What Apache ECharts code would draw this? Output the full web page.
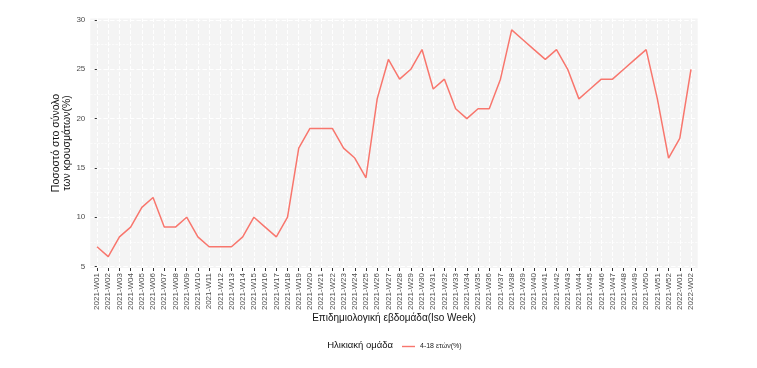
<!DOCTYPE html>
<html>
<head>
<meta charset="utf-8">
<script src="https://cdn.jsdelivr.net/npm/echarts@6/dist/echarts.min.js"></script>
<style>
html,body{margin:0;padding:0;background:#fff;}
#c{width:757px;height:368px;}
</style>
</head>
<body>
<div id="c"></div>
<script>
const weeks = [
  '2021-W01','2021-W02','2021-W03','2021-W04','2021-W05','2021-W06','2021-W07','2021-W08','2021-W09','2021-W10',
  '2021-W11','2021-W12','2021-W13','2021-W14','2021-W15','2021-W16','2021-W17','2021-W18','2021-W19','2021-W20',
  '2021-W21','2021-W22','2021-W23','2021-W24','2021-W25','2021-W26','2021-W27','2021-W28','2021-W29','2021-W30',
  '2021-W31','2021-W32','2021-W33','2021-W34','2021-W35','2021-W36','2021-W37','2021-W38','2021-W39','2021-W40',
  '2021-W41','2021-W42','2021-W43','2021-W44','2021-W45','2021-W46','2021-W47','2021-W48','2021-W49','2021-W50',
  '2021-W51','2021-W52','2022-W01','2022-W02'
];
const values = [
  7,6,8,9,11,12,9,9,10,8,
  7,7,7,8,10,9,8,10,17,19,
  19,19,17,16,14,22,26,24,25,27,
  23,24,21,20,21,21,24,29,28,27,
  26,27,25,22,23,24,24,25,26,27,
  22,16,18,25
];
const yTicks = [5,10,15,20,25,30];
const yMinor = [7.5,12.5,17.5,22.5,27.5];
const seriesName = '4-18 ετών(%)';
const legendTitle = 'Ηλικιακή ομάδα';
const xTitle = 'Επιδημιολογική εβδομάδα(Iso Week)';
const yTitle = 'Ποσοστό στο σύνολο\nτων κρουσμάτων(%)';

const idx = weeks.map((w,i)=>i);
const font = 'Liberation Sans, Arial, sans-serif';

const gridLines = [];
idx.forEach(i => gridLines.push({xAxis: i, lineStyle:{color:'#ffffff', width:1}}));
yMinor.forEach(v => gridLines.push({yAxis: v, lineStyle:{color:'#ffffff', width:0.6}}));
yTicks.forEach(v => gridLines.push({yAxis: v, lineStyle:{color:'#ffffff', width:1.1}}));

const chart = echarts.init(document.getElementById('c'), null, {renderer:'canvas'});
chart.setOption({
  animation: false,
  grid: {left: 90.3, right: 59.3, top: 18.5, bottom: 100, show: true, backgroundColor: '#F4F4F4', borderWidth: 0},
  xAxis: {
    type: 'value', min: -0.6, max: 53.6,
    axisLine: {show: false},
    splitLine: {show: false},
    axisTick: {show: true, customValues: idx, length: 3, lineStyle: {color: '#333333', width: 1}},
    axisLabel: {
      customValues: idx, rotate: 90, margin: 5,
      fontSize: 8, color: '#4D4D4D', fontFamily: font,
      formatter: v => weeks[Math.round(v)] || ''
    }
  },
  yAxis: {
    type: 'value', min: 4.85, max: 30.15,
    axisLine: {show: false},
    splitLine: {show: false},
    axisTick: {show: true, customValues: yTicks, length: 3, lineStyle: {color: '#333333', width: 1}},
    axisLabel: {customValues: yTicks, margin: 5, fontSize: 8, color: '#4D4D4D', fontFamily: font}
  },
  legend: {
    show: true, left: 397, top: 338,
    itemWidth: 13, itemHeight: 10, itemGap: 5,
    textStyle: {fontSize: 7, color: '#222222', fontFamily: font},
    data: [{name: seriesName, icon: 'path://M0,4.3 L13,4.3 L13,5.7 L0,5.7 Z', itemStyle:{color:'#F8766D'}}]
  },
  graphic: [
    {type: 'text', x: 394, y: 318, style: {text: xTitle, fontSize: 10, fill: '#111111', fontFamily: font, textAlign: 'center', textVerticalAlign: 'middle'}},
    {type: 'text', x: 62, y: 143, rotation: Math.PI/2, style: {text: yTitle, fontSize: 10.5, lineHeight: 11, fill: '#111111', fontFamily: font, textAlign: 'center', textVerticalAlign: 'middle'}},
    {type: 'text', x: 393, y: 345, style: {text: legendTitle, fontSize: 9.5, fill: '#111111', fontFamily: font, textAlign: 'right', textVerticalAlign: 'middle'}}
  ],
  series: [
    {
      type: 'line', name: 'grid', data: [], silent: true, z: 1,
      markLine: {silent: true, symbol: ['none','none'], label: {show: false}, z: 1, animation: false, data: gridLines}
    },
    {
      type: 'line', name: seriesName, z: 3,
      data: values.map((v,i)=>[i, v]),
      showSymbol: false, symbol: 'none',
      lineStyle: {color: '#F8766D', width: 1.5},
      itemStyle: {color: '#F8766D'}
    }
  ]
});
</script>
</body>
</html>
